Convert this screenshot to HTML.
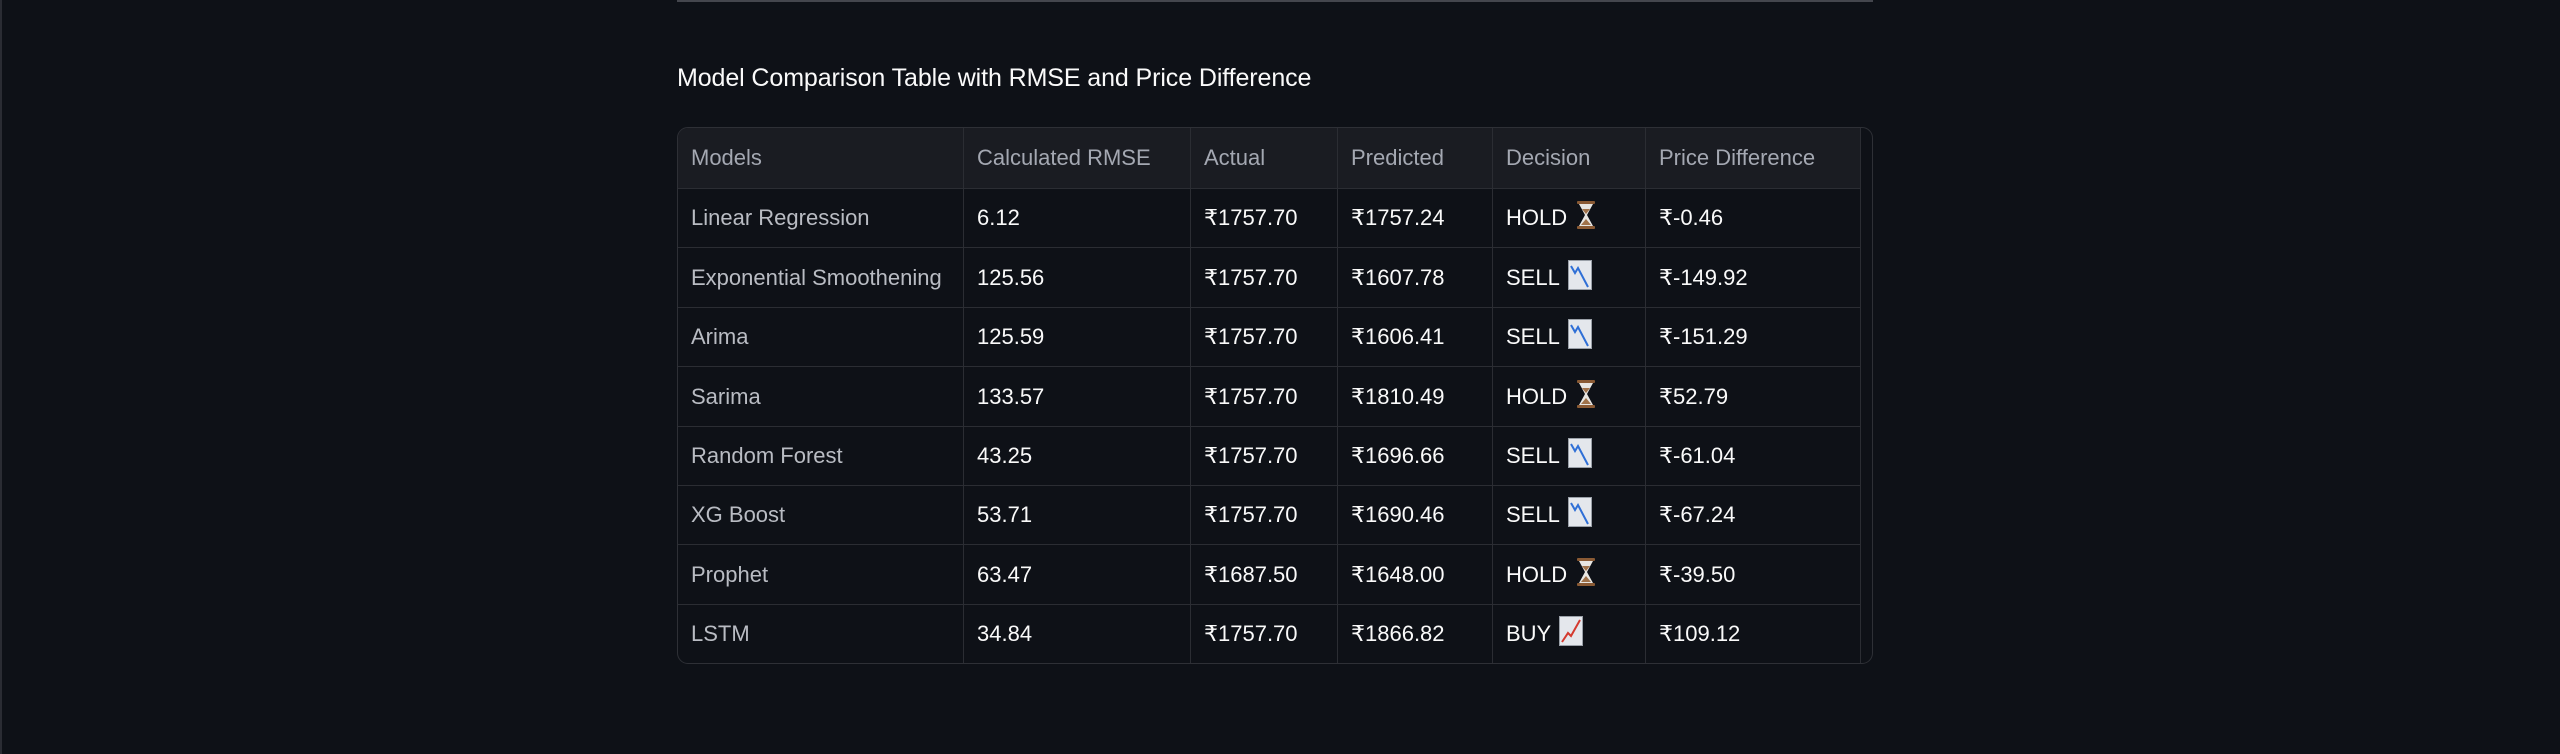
<!DOCTYPE html>
<html><head><meta charset="utf-8">
<style>
html,body{margin:0;padding:0;background:#0e1117;}
body{width:2560px;height:754px;position:relative;overflow:hidden;font-family:"Liberation Sans",sans-serif;}
#leftline{position:absolute;left:0;top:0;width:2px;height:754px;background:#2a2c33;}
#topline{position:absolute;left:677px;top:0;width:1196px;height:2px;background:#44464d;}
#title{position:absolute;left:677px;top:64px;font-size:25px;color:#fafafa;white-space:nowrap;letter-spacing:-0.1px;}
#table{position:absolute;left:677px;top:127px;width:1194px;height:535px;border:1px solid #2e3036;border-radius:11px;overflow:hidden;background:#0e1117;}
.cell{position:absolute;box-sizing:border-box;padding-left:13px;font-size:22px;display:flex;align-items:center;white-space:nowrap;border-right:1px solid #2b2d33;border-bottom:1px solid #2b2d33;}
.hdr{background:#1a1c22;color:#a4a8b2;}
.name{color:#b9bcc3;}
.val{color:#fafafa;}
.ico{display:inline-block;margin-left:8px;vertical-align:middle;}
</style></head>
<body>
<div id="leftline"></div>
<div id="topline"></div>
<div id="title">Model Comparison Table with RMSE and Price Difference</div>
<div id="table"></div>
<script>
const headers=["Models","Calculated RMSE","Actual","Predicted","Decision","Price Difference"];
const models=["Linear Regression","Exponential Smoothening","Arima","Sarima","Random Forest","XG Boost","Prophet","LSTM"];
const rmse=["6.12","125.56","125.59","133.57","43.25","53.71","63.47","34.84"];
const actual=["₹1757.70","₹1757.70","₹1757.70","₹1757.70","₹1757.70","₹1757.70","₹1687.50","₹1757.70"];
const predicted=["₹1757.24","₹1607.78","₹1606.41","₹1810.49","₹1696.66","₹1690.46","₹1648.00","₹1866.82"];
const decisions=["HOLD","SELL","SELL","HOLD","SELL","SELL","HOLD","BUY"];
const priceDiff=["₹-0.46","₹-149.92","₹-151.29","₹52.79","₹-61.04","₹-67.24","₹-39.50","₹109.12"];

const colX=[0,286,513,660,815,968,1183];
const headerH=61, rowH=59.4;
const icons={
HOLD:'<svg width="22" height="30" viewBox="0 0 22 30"><rect x="2" y="1" width="18" height="3" rx="1" fill="#8a5a34"/><rect x="2" y="26" width="18" height="3" rx="1" fill="#8a5a34"/><path d="M4 4 L18 4 L12 15 L18 26 L4 26 L10 15 Z" fill="#e8e6e2"/><path d="M7 9 L15 9 L11 14 Z M6 25 L16 25 L11 19 Z" fill="#a0724a"/></svg>',
SELL:'<svg width="24" height="30" viewBox="0 0 24 30"><rect x="0.5" y="0.5" width="23" height="29" fill="#e4e7ec" stroke="#9aa0a8"/><polyline points="3,6 7,13 10,8 20,27" fill="none" stroke="#2f6fd6" stroke-width="2"/></svg>',
BUY:'<svg width="24" height="30" viewBox="0 0 24 30"><rect x="0.5" y="0.5" width="23" height="29" fill="#e4e7ec" stroke="#9aa0a8"/><polyline points="3,26 9,17 12,20 21,4" fill="none" stroke="#d43a2f" stroke-width="2"/></svg>'
};
const table=document.getElementById('table');
function addCell(col,top,h,html,cls,name){
  const d=document.createElement('div');
  d.className='cell '+cls;
  d.style.left=colX[col]+'px';
  d.style.top=top+'px';
  d.style.width=(colX[col+1]-colX[col])+'px';
  d.style.height=h+'px';
  d.innerHTML=html;
  
  
  table.appendChild(d);
}
headers.forEach((h,i)=>addCell(i,0,headerH,h,'hdr','column-header'));
models.forEach((m,r)=>{
  const top=headerH+r*rowH;
  const h=Math.round(top+rowH)-Math.round(top);
  const t=Math.round(top);
  addCell(0,t,h,m,'name','model-name');
  addCell(1,t,h,rmse[r],'val','rmse-value');
  addCell(2,t,h,actual[r],'val','actual-price');
  addCell(3,t,h,predicted[r],'val','predicted-price');
  addCell(4,t,h,decisions[r]+'<span class="ico">'+icons[decisions[r]]+'</span>','val','decision');
  addCell(5,t,h,priceDiff[r],'val','price-difference');
});
</script>
</body></html>
